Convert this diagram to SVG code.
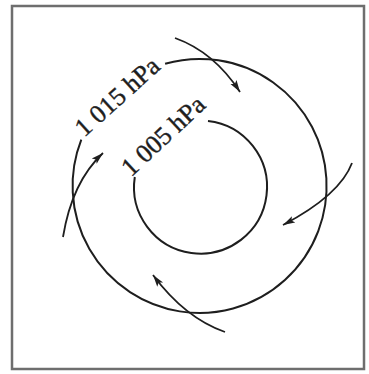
<svg xmlns="http://www.w3.org/2000/svg" width="369" height="374" viewBox="0 0 369 374">
<style>
.frame{fill:none;stroke:#6e6e6e;stroke-width:2.5}
.iso{fill:none;stroke:#1e1e1e;stroke-width:2}
.wind{fill:none;stroke:#1e1e1e;stroke-width:1.8;marker-end:url(#ah)}
.lbl{font-family:"Liberation Serif","Times New Roman",serif;font-size:26px;fill:#1e1e1e;stroke:#1e1e1e;stroke-width:0.4;text-anchor:middle}
</style>
<defs>
<marker id="ah" markerUnits="userSpaceOnUse" markerWidth="14" markerHeight="10" viewBox="0 -5 14 10" refX="12" refY="0" orient="auto">
<path d="M0,-3.6 L12,0 L0,3.6 L2.5,0 Z" fill="#1e1e1e"/>
</marker>
</defs>
<rect width="369" height="374" fill="#ffffff"/>
<rect class="frame" x="12" y="6" width="352" height="363"/>
<g id="isobar-1015">
<path class="iso" d="M165.1 63.7 A127 127 0 1 1 81.3 139.7"/>
<text class="lbl" transform="translate(123 103) rotate(-42)">1 015 hPa</text>
</g>
<g id="isobar-1005">
<path class="iso" d="M208 121 A66.5 66.5 0 1 1 134.8 177"/>
<text class="lbl" transform="translate(169 142) rotate(-43)">1 005 hPa</text>
</g>
<g id="connectors">
<path class="wind" d="M175 38 Q214 52 240 92"/>
<path class="wind" d="M352 163 Q340 195 283 225"/>
<path class="wind" d="M225 332 Q185 318 153 275"/>
<path class="wind" d="M63 237 Q72 182 103 153"/>
</g>
</svg>
